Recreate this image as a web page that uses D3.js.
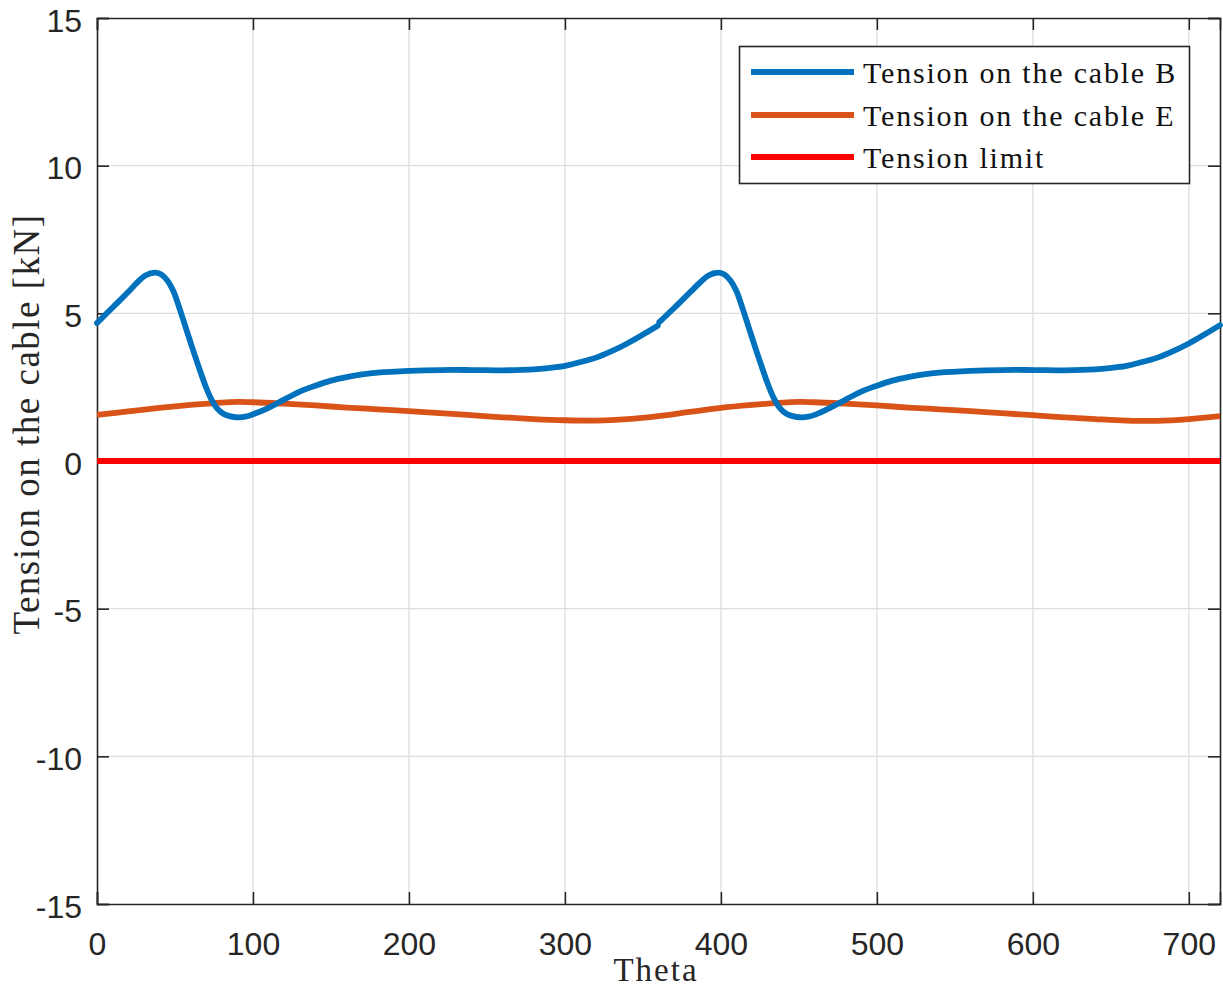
<!DOCTYPE html>
<html>
<head>
<meta charset="utf-8">
<script src="https://cdn.jsdelivr.net/npm/d3@7"></script>
<style>
  html, body { margin: 0; padding: 0; background: #fff; }
  svg { display: block; }
</style>
</head>
<body>
<svg id="chart" width="1223" height="989"></svg>
<script>
// Crank angle (deg) and cable tensions (kN)
const thetaB = [0, 10, 20, 26, 31, 37, 41, 45, 49, 53, 57, 61, 65, 69, 73, 77, 81, 85, 90, 95, 100, 110, 120, 130, 140, 150, 160, 170, 180, 200, 220, 240, 260, 280, 290, 300, 310, 320, 330, 340, 350, 359.5,
                360.5, 370, 380, 387, 392, 398, 402, 406, 410, 414, 418, 422, 426, 430, 434, 438, 442, 446, 451, 456, 461, 470, 480, 490, 500, 510, 520, 530, 540, 560, 580, 600, 620, 640, 650, 660, 670, 680, 690, 700, 710, 720];
const tensionB = [4.67, 5.2, 5.72, 6.06, 6.28, 6.38, 6.32, 6.12, 5.75, 5.15, 4.5, 3.85, 3.22, 2.62, 2.12, 1.78, 1.6, 1.52, 1.48, 1.5, 1.58, 1.8, 2.08, 2.35, 2.55, 2.72, 2.84, 2.93, 2.99, 3.05, 3.08, 3.08, 3.07, 3.1, 3.15, 3.22, 3.35, 3.5, 3.72, 3.98, 4.28, 4.58,
                  4.7, 5.18, 5.7, 6.06, 6.28, 6.38, 6.32, 6.12, 5.75, 5.15, 4.5, 3.85, 3.22, 2.62, 2.12, 1.78, 1.6, 1.52, 1.48, 1.5, 1.58, 1.8, 2.08, 2.35, 2.55, 2.72, 2.84, 2.93, 2.99, 3.05, 3.08, 3.08, 3.07, 3.1, 3.15, 3.22, 3.35, 3.5, 3.72, 3.98, 4.28, 4.6];

const thetaE = [0, 20, 40, 60, 80, 90, 100, 120, 140, 160, 180, 200, 220, 240, 260, 280, 300, 320, 340, 360,
                380, 400, 420, 440, 450, 460, 480, 500, 520, 540, 560, 580, 600, 620, 640, 660, 680, 700, 720];
const tensionE = [1.56, 1.68, 1.8, 1.9, 1.98, 2.0, 1.99, 1.94, 1.88, 1.81, 1.75, 1.69, 1.62, 1.55, 1.48, 1.42, 1.38, 1.37, 1.42, 1.52,
                  1.66, 1.8, 1.9, 1.98, 2.0, 1.99, 1.94, 1.88, 1.81, 1.75, 1.69, 1.62, 1.55, 1.48, 1.42, 1.37, 1.36, 1.42, 1.52];

const thetaLimit = [0, 720];
const tensionLimit = [0, 0];

const xTicks = [0, 100, 200, 300, 400, 500, 600, 700];
const yTicks = [-15, -10, -5, 0, 5, 10, 15];

const seriesNames = ["Tension on the cable B", "Tension on the cable E", "Tension limit"];
const seriesColors = ["#0072BD", "#D95319", "#FF0000"];

const svg = d3.select("#chart");
const plotLeft = 97, plotRight = 1220, plotTop = 18, plotBottom = 904;

const x = d3.scaleLinear().domain([0, 720]).range([plotLeft, plotRight]);
const y = d3.scaleLinear().domain([-15, 15]).range([plotBottom, plotTop]);

const axisColor = "#262626";
const plainNum = d => String(d); // ASCII hyphen for negatives
const lineW = 5.8;

// grid
const grid = svg.append("g");
grid.selectAll(".gx").data(xTicks.filter(d => d > 0)).join("line")
  .attr("x1", d => x(d)).attr("x2", d => x(d))
  .attr("y1", plotTop).attr("y2", plotBottom)
  .attr("stroke", "#dedede").attr("stroke-width", 1.3);
grid.selectAll(".gy").data(yTicks.filter(d => d > -15 && d < 15)).join("line")
  .attr("x1", plotLeft).attr("x2", plotRight)
  .attr("y1", d => y(d)).attr("y2", d => y(d))
  .attr("stroke", "#dedede").attr("stroke-width", 1.3);

// axes with inward ticks on all four sides
const tickFont = "'Liberation Sans', Arial, sans-serif";
const axB = svg.append("g").attr("transform", `translate(0,${plotBottom})`)
  .call(d3.axisBottom(x).tickValues(xTicks).tickSize(-12).tickPadding(0).tickFormat(plainNum));
const axT = svg.append("g").attr("transform", `translate(0,${plotTop})`)
  .call(d3.axisTop(x).tickValues(xTicks).tickSize(-12).tickFormat(""));
const axL = svg.append("g").attr("transform", `translate(${plotLeft},0)`)
  .call(d3.axisLeft(y).tickValues(yTicks).tickSize(-12).tickPadding(0).tickFormat(plainNum));
const axR = svg.append("g").attr("transform", `translate(${plotRight},0)`)
  .call(d3.axisRight(y).tickValues(yTicks).tickSize(-12).tickFormat(""));

[axB, axT, axL, axR].forEach(a => {
  a.select(".domain").attr("stroke", axisColor).attr("stroke-width", 1.6);
  a.selectAll(".tick line").attr("stroke", axisColor).attr("stroke-width", 1.6);
});

axB.selectAll(".tick text")
  .attr("y", 51).attr("dy", null)
  .attr("font-family", tickFont).attr("font-size", 32).attr("fill", axisColor);
axL.selectAll(".tick text")
  .attr("x", -15).attr("dy", 13)
  .attr("font-family", tickFont).attr("font-size", 32).attr("fill", axisColor);

// series
const line = d3.line().x(d => x(d[0])).y(d => y(d[1])).curve(d3.curveCatmullRom.alpha(0.5));
const zipped = (xs, ys) => xs.map((v, i) => [v, ys[i]]);

const plot = svg.append("g");
plot.append("path").datum(zipped(thetaLimit, tensionLimit))
  .attr("d", d3.line().x(d => x(d[0])).y(d => y(d[1])))
  .attr("fill", "none").attr("stroke", seriesColors[2]).attr("stroke-width", lineW);
plot.append("path").datum(zipped(thetaE, tensionE))
  .attr("d", line)
  .attr("fill", "none").attr("stroke", seriesColors[1]).attr("stroke-width", lineW);
// cable B is drawn in two segments (the solution restarts at 360 deg)
const splitB = thetaB.indexOf(360.5);
plot.append("path").datum(zipped(thetaB, tensionB).slice(0, splitB))
  .attr("d", line)
  .attr("fill", "none").attr("stroke", seriesColors[0]).attr("stroke-width", lineW).attr("stroke-linecap", "round");
plot.append("path").datum(zipped(thetaB, tensionB).slice(splitB))
  .attr("d", line)
  .attr("fill", "none").attr("stroke", seriesColors[0]).attr("stroke-width", lineW).attr("stroke-linecap", "round");

// axis labels
const serif = "'Liberation Serif', 'Times New Roman', serif";
svg.append("text")
  .attr("transform", "translate(39,424) rotate(-90)")
  .attr("text-anchor", "middle")
  .attr("font-family", serif).attr("font-size", 37).attr("letter-spacing", 1.5)
  .attr("fill", "#262626")
  .text("Tension on the cable [kN]");
svg.append("text")
  .attr("x", 656).attr("y", 981)
  .attr("text-anchor", "middle")
  .attr("font-family", serif).attr("font-size", 33).attr("letter-spacing", 2)
  .attr("fill", "#262626")
  .text("Theta");

// legend
const legend = svg.append("g");
legend.append("rect")
  .attr("x", 739.5).attr("y", 46.5).attr("width", 450).attr("height", 137)
  .attr("fill", "#fff").attr("stroke", axisColor).attr("stroke-width", 1.6);
const rowY = [72, 115, 157];
seriesNames.forEach((name, i) => {
  legend.append("line")
    .attr("x1", 751).attr("x2", 854).attr("y1", rowY[i]).attr("y2", rowY[i])
    .attr("stroke", seriesColors[i]).attr("stroke-width", lineW);
  legend.append("text")
    .attr("x", 863).attr("y", rowY[i] + 11)
    .attr("font-family", serif).attr("font-size", 30).attr("letter-spacing", 1.8)
    .attr("fill", "#111")
    .text(name);
});
</script>
</body>
</html>
